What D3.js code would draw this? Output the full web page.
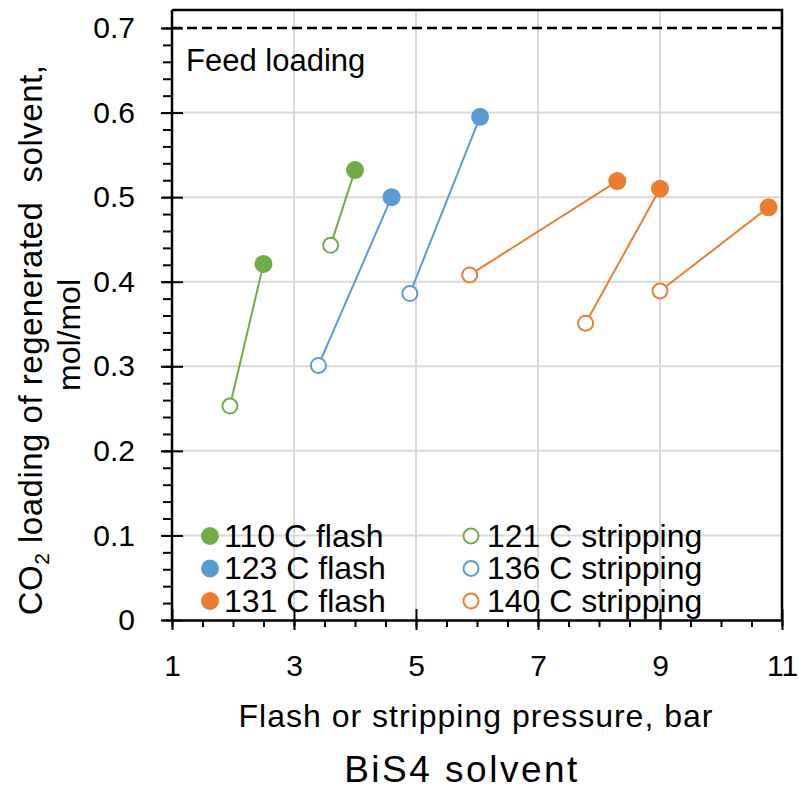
<!DOCTYPE html>
<html>
<head>
<meta charset="utf-8">
<script src="https://cdn.jsdelivr.net/npm/d3@7"></script>
<style>
  body { margin: 0; background: #fff; }
  text { font-family: "Liberation Sans", Arial, sans-serif; fill: #000; }
</style>
</head>
<body>
<div id="chart"></div>
<script>
// Pressures (bar) and CO2 loadings (mol/mol), one pair per flash/stripping run.
var flash110P = [2.5, 4.0];
var flash110L = [0.421, 0.532];
var strip121P = [1.95, 3.6];
var strip121L = [0.253, 0.443];
var flash123P = [4.6, 6.05];
var flash123L = [0.500, 0.595];
var strip123P = [3.4, 4.9];
var strip123L = [0.301, 0.386];
var flash131P = [8.3, 9.0, 10.78];
var flash131L = [0.519, 0.510, 0.488];
var strip140P = [5.88, 7.78, 9.0];
var strip140L = [0.408, 0.351, 0.389];

var feedLoading = 0.7;
var xTicks = [1, 3, 5, 7, 9, 11];
var yTicks = [0, 0.1, 0.2, 0.3, 0.4, 0.5, 0.6, 0.7];

var legendFlash = ["110 C flash", "123 C flash", "131 C flash"];
var legendStrip = ["121 C stripping", "136 C stripping", "140 C stripping"];

var colors = ["#70AD47", "#5B9BD5", "#ED7D31"];

var groups = [
  { fp: flash110P, fl: flash110L, sp: strip121P, sl: strip121L, c: colors[0] },
  { fp: flash123P, fl: flash123L, sp: strip123P, sl: strip123L, c: colors[1] },
  { fp: flash131P, fl: flash131L, sp: strip140P, sl: strip140L, c: colors[2] }
];

var width = 799, height = 789;
var m = { left: 172, right: 17, top: 10, bottom: 169 };

var svg = d3.select("#chart").append("svg")
    .attr("width", width)
    .attr("height", height);

var x = d3.scaleLinear().domain([1, 11]).range([m.left, width - m.right]);
var y = d3.scaleLinear().domain([0, 0.7]).range([height - m.bottom, 28]);

// gridlines
svg.append("g").selectAll("line")
    .data(xTicks.slice(1, -1))
  .enter().append("line")
    .attr("x1", x).attr("x2", x)
    .attr("y1", y(0)).attr("y2", m.top)
    .attr("stroke", "#d9d9d9").attr("stroke-width", 2);

svg.append("g").selectAll("line")
    .data(yTicks.slice(1, -1))
  .enter().append("line")
    .attr("x1", x(1)).attr("x2", x(11))
    .attr("y1", y).attr("y2", y)
    .attr("stroke", "#d9d9d9").attr("stroke-width", 2);

// frame top and right
svg.append("path")
    .attr("d", "M" + x(1) + "," + m.top + "H" + x(11) + "V" + y(0))
    .attr("fill", "none").attr("stroke", "#000").attr("stroke-width", 2.5);

// feed loading line
svg.append("line")
    .attr("x1", x(1)).attr("x2", x(11))
    .attr("y1", y(feedLoading)).attr("y2", y(feedLoading))
    .attr("stroke", "#000").attr("stroke-width", 2.3)
    .attr("stroke-dasharray", "10,5");

svg.append("text")
    .attr("x", 186).attr("y", 71)
    .style("font-size", "31px")
    .text("Feed loading");

// axes
var xMinor = d3.range(1, 11.01, 0.5);
svg.append("g")
    .attr("transform", "translate(0," + y(0) + ")")
    .call(d3.axisBottom(x).tickValues(xMinor).tickSize(7).tickFormat(""))
    .call(function(g) { g.select(".domain").remove(); })
    .selectAll("line").attr("stroke-width", 2);

var xAxis = svg.append("g")
    .attr("transform", "translate(0," + y(0) + ")")
    .call(d3.axisBottom(x).tickValues(xTicks).tickSize(10).tickSizeOuter(0).tickPadding(25));
xAxis.select(".domain").attr("stroke-width", 2.5);
xAxis.selectAll(".tick line").attr("y1", -11).attr("y2", 10).attr("stroke-width", 2);
xAxis.selectAll("text").style("font-size", "30px").style("font-family", "Liberation Sans, Arial, sans-serif");

var yMinor = d3.range(0, 0.701, 0.02);
svg.append("g")
    .attr("transform", "translate(" + x(1) + ",0)")
    .call(d3.axisLeft(y).tickValues(yMinor).tickSize(9).tickFormat(""))
    .call(function(g) { g.select(".domain").remove(); })
    .selectAll("line").attr("stroke-width", 2);

var yAxis = svg.append("g")
    .attr("transform", "translate(" + x(1) + ",0)")
    .call(d3.axisLeft(y).tickValues(yTicks).tickSize(11).tickSizeOuter(0).tickPadding(26)
      .tickFormat(function(d) { return d === 0 ? "0" : d3.format(".1f")(d); }));
yAxis.select(".domain").attr("d", "M0," + y(0) + "V" + m.top).attr("stroke-width", 2.5);
yAxis.selectAll(".tick line").attr("x1", -11).attr("x2", 11).attr("stroke-width", 2);
yAxis.selectAll("text").style("font-size", "30px").style("font-family", "Liberation Sans, Arial, sans-serif");

// connecting lines and markers
groups.forEach(function(g) {
  var pairs = g.fp.map(function(p, i) { return [[g.sp[i], g.sl[i]], [p, g.fl[i]]]; });
  var line = d3.line().x(function(d) { return x(d[0]); }).y(function(d) { return y(d[1]); });
  svg.append("g").selectAll("path")
      .data(pairs)
    .enter().append("path")
      .attr("d", line)
      .attr("fill", "none").attr("stroke", g.c).attr("stroke-width", 2);

  svg.append("g").selectAll("circle")
      .data(g.sp)
    .enter().append("circle")
      .attr("cx", function(d) { return x(d); })
      .attr("cy", function(d, i) { return y(g.sl[i]); })
      .attr("r", 7.5)
      .attr("fill", "#fff").attr("stroke", g.c).attr("stroke-width", 2);

  svg.append("g").selectAll("circle")
      .data(g.fp)
    .enter().append("circle")
      .attr("cx", function(d) { return x(d); })
      .attr("cy", function(d, i) { return y(g.fl[i]); })
      .attr("r", 9)
      .attr("fill", g.c);
});

// legend
var leg = svg.append("g");
legendFlash.forEach(function(t, i) {
  var yy = 536 + i * 32.5;
  leg.append("circle").attr("cx", 210).attr("cy", yy).attr("r", 9).attr("fill", colors[i]);
  leg.append("text").attr("x", 224).attr("y", yy + 10.5).style("font-size", "32px").text(t);
  leg.append("circle").attr("cx", 471).attr("cy", yy).attr("r", 7.5).attr("fill", "#fff")
      .attr("stroke", colors[i]).attr("stroke-width", 2);
  leg.append("text").attr("x", 487).attr("y", yy + 10.5).style("font-size", "32px").text(legendStrip[i]);
});

// axis titles
svg.append("text")
    .attr("x", 476).attr("y", 727)
    .attr("text-anchor", "middle")
    .style("font-size", "32px")
    .style("letter-spacing", "1px")
    .text("Flash or stripping pressure, bar");

svg.append("text")
    .attr("x", 462).attr("y", 782)
    .attr("text-anchor", "middle")
    .style("font-size", "37px")
    .style("letter-spacing", "2.5px")
    .text("BiS4 solvent");

var yt = svg.append("text")
    .attr("transform", "translate(42,340) rotate(-90)")
    .attr("text-anchor", "middle")
    .style("font-size", "33px")
    .style("letter-spacing", "0.5px")
    .style("white-space", "pre");
yt.append("tspan").text("CO");
yt.append("tspan").attr("dy", 7).style("font-size", "21px").text("2");
yt.append("tspan").attr("dy", -7).text(" loading of regenerated  solvent,");

svg.append("text")
    .attr("transform", "translate(80,335) rotate(-90)")
    .attr("text-anchor", "middle")
    .style("font-size", "32px")
    .text("mol/mol");
</script>
</body>
</html>
